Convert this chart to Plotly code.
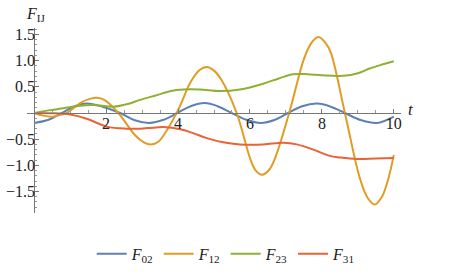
import numpy as np
import plotly.graph_objects as go

# ---- data ----
t_f02 = [0, 0.4, 0.77, 1.1, 1.46, 1.9, 2.39, 2.8, 3.2, 3.6, 3.98, 4.35, 4.75, 5.1, 5.49,
         5.9, 6.3, 6.7, 7.06, 7.45, 7.87, 8.25, 8.64, 9.1, 9.55, 10]
f02 = [-0.19, -0.13, 0, 0.12, 0.18, 0.12, 0, -0.14, -0.19, -0.13, 0, 0.13, 0.19, 0.13, 0,
       -0.13, -0.19, -0.13, 0, 0.13, 0.18, 0.12, 0, -0.14, -0.19, -0.07]

t_f12 = [0, 0.25, 0.5, 0.7, 0.91, 1.3, 1.55, 1.74, 1.95, 2.34, 2.8, 3.05, 3.24, 3.45, 3.96,
         4.35, 4.6, 4.8, 5.0, 5.2, 5.63, 6.0, 6.15, 6.34, 6.53, 6.7, 7.09, 7.5, 7.7, 7.9,
         8.1, 8.25, 8.64, 9.05, 9.27, 9.47, 9.67, 9.85, 10]
f12 = [0, -0.05, -0.07, -0.04, 0, 0.2, 0.27, 0.29, 0.25, 0, -0.42, -0.56, -0.6, -0.55, 0,
       0.59, 0.82, 0.88, 0.81, 0.64, 0, -0.86, -1.09, -1.18, -1.09, -0.86, 0, 1.03, 1.33, 1.45,
       1.34, 1.15, 0, -1.23, -1.62, -1.75, -1.6, -1.25, -0.8]

t_f23 = [0, 0.4, 0.81, 1.28, 1.74, 2.2, 2.6, 2.94, 3.4, 3.8, 4.15, 4.6, 5.17, 5.72, 6.37,
         6.8, 7.2, 7.6, 8.0, 8.6, 9.0, 9.33, 9.7, 10]
f23 = [0, 0.05, 0.09, 0.14, 0.15, 0.12, 0.17, 0.25, 0.34, 0.42, 0.45, 0.45, 0.42, 0.45, 0.56,
       0.66, 0.74, 0.74, 0.72, 0.71, 0.76, 0.85, 0.93, 0.99]

t_f31 = [0, 0.5, 1.0, 1.46, 2.02, 2.57, 2.94, 3.3, 3.59, 4.06, 4.4, 4.8, 5.25, 5.72, 6.37,
         6.93, 7.3, 7.76, 8.22, 8.5, 8.96, 9.5, 10]
f31 = [0, -0.005, -0.03, -0.11, -0.26, -0.3, -0.3, -0.28, -0.27, -0.31, -0.38, -0.48, -0.56, -0.6, -0.6,
       -0.57, -0.6, -0.7, -0.82, -0.85, -0.88, -0.87, -0.86]

series_names = ["<i>F</i><sub>02</sub>", "<i>F</i><sub>12</sub>",
                "<i>F</i><sub>23</sub>", "<i>F</i><sub>31</sub>"]
colors = ["#5E81B5", "#E19C24", "#8FB032", "#EB6235"]

x_ticks = [2, 4, 6, 8, 10]
y_ticks = [-1.5, -1.0, -0.5, 0.5, 1.0, 1.5]
y_ticktext = ["\u22121.5", "\u22121.0", "\u22120.5", "0.5", "1.0", "1.5"]

x_range = [-0.2, 10.2]
y_range = [-1.911, 1.624]

FONT = "Liberation Serif, Times New Roman, serif"

fig = go.Figure()
for xs, ys, name, c in zip([t_f02, t_f12, t_f23, t_f31], [f02, f12, f23, f31],
                           series_names, colors):
    fig.add_trace(go.Scatter(x=xs, y=ys, mode="lines", name=name,
                             line=dict(color=c, width=2, shape="spline", smoothing=1.0)))

x_pos = (0 - y_range[0]) / (y_range[1] - y_range[0])
y_pos = (0 - x_range[0]) / (x_range[1] - x_range[0])

fig.update_layout(
    width=457, height=273,
    margin=dict(l=27, r=56, t=28, b=60, autoexpand=False),
    paper_bgcolor="white", plot_bgcolor="white",
    font=dict(family=FONT, size=16, color="#222"),
    showlegend=True,
    legend=dict(orientation="h", xref="container", yref="container",
                x=0.495, xanchor="center", y=0.07, yanchor="middle",
                font=dict(family=FONT, size=16, color="#222"), itemwidth=30,
                bgcolor="rgba(0,0,0,0)"),
    xaxis=dict(range=x_range, anchor="free", position=x_pos, showgrid=False, zeroline=False,
               automargin=False,
               showline=True, linecolor="#777", linewidth=1,
               tickmode="array", tickvals=x_ticks, ticks="inside", ticklen=4,
               tickcolor="#777", tickfont=dict(family=FONT, size=16, color="#222"),
               ticklabelstandoff=-4,
               minor=dict(tickmode="array", tickvals=list(np.arange(0.5, 10.01, 0.5)),
                          ticks="inside", ticklen=2.5, tickcolor="#999")),
    yaxis=dict(range=y_range, anchor="free", position=y_pos, showgrid=False, zeroline=False,
               automargin=False,
               showline=True, linecolor="#777", linewidth=1,
               tickmode="array", tickvals=y_ticks, ticktext=y_ticktext,
               ticks="inside", ticklen=4, tickcolor="#777",
               tickfont=dict(family=FONT, size=16, color="#222"),
               ticklabelstandoff=-4,
               minor=dict(tickmode="array", tickvals=list(np.round(np.arange(-1.9, 1.61, 0.1), 2)),
                          ticks="inside", ticklen=2, tickcolor="#999")),
)

fig.add_annotation(text="<i>F</i><sub>IJ</sub>", xref="x", yref="paper", x=0, y=1,
                   xanchor="left", yanchor="bottom", yshift=2, xshift=-10, showarrow=False,
                   font=dict(family=FONT, size=16, color="#222"))
fig.add_annotation(text="<i>t</i>", xref="paper", yref="y", x=1, y=0,
                   xanchor="left", yanchor="middle", xshift=5, yshift=3, showarrow=False,
                   font=dict(family=FONT, size=17, color="#222"))

fig.write_html("out.html", config={"displayModeBar": False},
               post_script="document.body.style.margin='0';document.body.style.padding='0';")
